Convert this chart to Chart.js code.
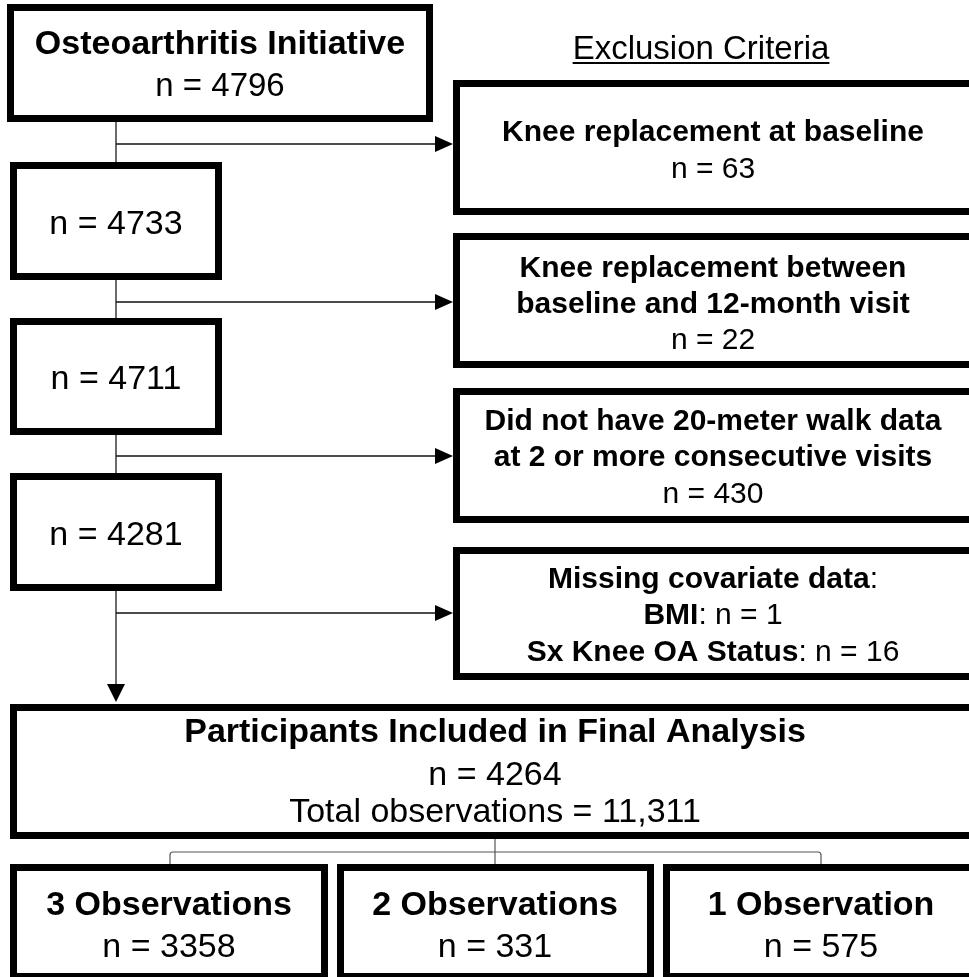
<!DOCTYPE html>
<html>
<head>
<meta charset="utf-8">
<script src="https://cdn.jsdelivr.net/npm/chart.js@4.4.1/dist/chart.umd.min.js"></script>
<style>
  html, body { margin: 0; padding: 0; background: #ffffff; }
  #wrap { width: 969px; height: 977px; position: relative; }
</style>
</head>
<body>
<div id="wrap"><canvas id="c"></canvas></div>
<script>
// ---------------- DATA ----------------
const sourceTitle = "Osteoarthritis Initiative";
const stepCounts = [4796, 4733, 4711, 4281];
const exclusionHeader = "Exclusion Criteria";
const exclusionLabels = [
  ["Knee replacement at baseline"],
  ["Knee replacement between", "baseline and 12-month visit"],
  ["Did not have 20-meter walk data", "at 2 or more consecutive visits"],
  ["Missing covariate data"]
];
const exclusionCounts = [63, 22, 430, null];
const covariateLabels = ["BMI", "Sx Knee OA Status"];
const covariateCounts = [1, 16];
const finalTitle = "Participants Included in Final Analysis";
const finalCount = 4264;
const totalObservations = "11,311";
const groupLabels = ["3 Observations", "2 Observations", "1 Observation"];
const groupCounts = [3358, 331, 575];

// ---------------- LAYOUT (positions / sizes, in scale units) ----------------
const LAYOUT = {
  border: 7,
  stepBoxes: [[7, 4, 433, 122], [10, 162, 222, 280], [10, 318, 222, 435], [10, 473, 222, 591]],
  stepText: [[220, [42, 84]], [116, [222]], [116, [377]], [116, [533]]],
  exclBoxes: [[453, 80, 976, 215], [453, 233, 976, 368], [453, 388, 976, 523], [453, 547, 976, 680]],
  exclTextX: 713,
  exclTextY: [[130, 167], [266, 302, 338], [419, 455, 492], [577, 613, 650]],
  headerPos: [701, 47, 63],
  spineX: 116,
  spineTop: 122, spineBottom: 702,
  arrowY: [144, 302, 456, 613],
  arrowEndX: 453,
  finalBox: [10, 704, 980, 839],
  finalTextX: 495, finalTextY: [730, 773, 810],
  groupBoxes: [[10, 864, 328, 980], [337, 864, 654, 980], [663, 864, 979, 980]],
  groupTextX: [169, 495, 821], groupTextY: [903, 945],
  bracket: { stemX: 495, top: 839, y: 852, left: 170, right: 821, bottom: 864 }
};
const FONT = '"Liberation Sans", Arial, Helvetica, sans-serif';

function font(w, s) { return (w ? 'bold ' : '') + s + 'px ' + FONT; }

function drawRich(ctx, segs, cx, cy, size) {
  let total = 0;
  segs.forEach(s => { ctx.font = font(s[1], size); s.w = ctx.measureText(s[0]).width; total += s.w; });
  let x = cx - total / 2;
  const base = cy + size * 0.36;
  ctx.textAlign = 'left';
  ctx.textBaseline = 'alphabetic';
  segs.forEach(s => { ctx.font = font(s[1], size); ctx.fillText(s[0], x, base); x += s.w; });
}

const flowPlugin = {
  id: 'flow',
  afterDraw(chart) {
    const ctx = chart.ctx;
    const X = v => chart.scales.x.getPixelForValue(v);
    const Y = v => chart.scales.y.getPixelForValue(v);
    const L = LAYOUT;
    ctx.save();
    ctx.fillStyle = '#000';

    const box = (b) => {
      const h = L.border / 2;
      const x0 = X(b[0]), y0 = Y(b[1]), w = X(b[2]) - X(b[0]), hh = Y(b[3]) - Y(b[1]);
      ctx.fillStyle = '#fff';
      ctx.fillRect(x0, y0, w, hh);
      ctx.lineWidth = L.border;
      ctx.strokeStyle = '#000';
      ctx.strokeRect(x0 + h, y0 + h, w - L.border, hh - L.border);
      ctx.fillStyle = '#000';
    };

    // connectors
    ctx.strokeStyle = '#3a3a3a';
    ctx.lineWidth = 1.5;
    ctx.beginPath();
    ctx.moveTo(X(L.spineX), Y(L.spineTop));
    ctx.lineTo(X(L.spineX), Y(L.spineBottom) - 14);
    ctx.stroke();
    ctx.beginPath();
    ctx.moveTo(X(L.spineX) - 9, Y(L.spineBottom) - 18);
    ctx.lineTo(X(L.spineX) + 9, Y(L.spineBottom) - 18);
    ctx.lineTo(X(L.spineX), Y(L.spineBottom));
    ctx.closePath(); ctx.fill();

    ctx.strokeStyle = '#111';
    ctx.lineWidth = 1.3;
    L.arrowY.forEach(y => {
      ctx.beginPath();
      ctx.moveTo(X(L.spineX), Y(y));
      ctx.lineTo(X(L.arrowEndX) - 14, Y(y));
      ctx.stroke();
      ctx.beginPath();
      ctx.moveTo(X(L.arrowEndX) - 18, Y(y) - 8);
      ctx.lineTo(X(L.arrowEndX), Y(y));
      ctx.lineTo(X(L.arrowEndX) - 18, Y(y) + 8);
      ctx.closePath(); ctx.fill();
    });

    // bracket
    const br = L.bracket;
    ctx.strokeStyle = '#555';
    ctx.lineWidth = 1.2;
    ctx.beginPath();
    ctx.moveTo(X(br.stemX), Y(br.top)); ctx.lineTo(X(br.stemX), Y(br.bottom)); ctx.stroke();
    ctx.beginPath();
    ctx.moveTo(X(br.left), Y(br.bottom));
    ctx.arcTo(X(br.left), Y(br.y), X(br.left) + 6, Y(br.y), 3);
    ctx.arcTo(X(br.right), Y(br.y), X(br.right), Y(br.bottom), 3);
    ctx.lineTo(X(br.right), Y(br.bottom));
    ctx.stroke();

    // step boxes
    L.stepBoxes.forEach(box);
    drawRich(ctx, [[sourceTitle, true]], X(L.stepText[0][0]), Y(L.stepText[0][1][0]), 34);
    drawRich(ctx, [['n = ' + stepCounts[0], false]], X(L.stepText[0][0]), Y(L.stepText[0][1][1]), 33);
    for (let i = 1; i < stepCounts.length; i++) {
      drawRich(ctx, [['n = ' + stepCounts[i], false]], X(L.stepText[i][0]), Y(L.stepText[i][1][0]), 34);
    }

    // header
    const hp = L.headerPos;
    ctx.font = font(false, 33);
    const hw = ctx.measureText(exclusionHeader).width;
    drawRich(ctx, [[exclusionHeader, false]], X(hp[0]), Y(hp[1]), 33);
    ctx.fillRect(X(hp[0]) - hw / 2, Y(hp[2]) - 1, hw, 2);

    // exclusion boxes
    L.exclBoxes.forEach(box);
    exclusionLabels.forEach((lines, i) => {
      const ys = L.exclTextY[i];
      lines.forEach((t, j) => {
        const segs = (exclusionCounts[i] === null) ? [[t, true], [':', false]] : [[t, true]];
        drawRich(ctx, segs, X(L.exclTextX), Y(ys[j]), 30);
      });
      if (exclusionCounts[i] !== null) {
        drawRich(ctx, [['n = ' + exclusionCounts[i], false]], X(L.exclTextX), Y(ys[lines.length]), 30);
      } else {
        covariateLabels.forEach((c, k) => {
          drawRich(ctx, [[c, true], [': n = ' + covariateCounts[k], false]], X(L.exclTextX), Y(ys[lines.length + k]), 30);
        });
      }
    });

    // final box
    box(L.finalBox);
    drawRich(ctx, [[finalTitle, true]], X(L.finalTextX), Y(L.finalTextY[0]), 34);
    drawRich(ctx, [['n = ' + finalCount, false]], X(L.finalTextX), Y(L.finalTextY[1]), 34);
    drawRich(ctx, [['Total observations = ' + totalObservations, false]], X(L.finalTextX), Y(L.finalTextY[2]), 34);

    // group boxes
    L.groupBoxes.forEach(box);
    groupLabels.forEach((g, i) => {
      drawRich(ctx, [[g, true]], X(L.groupTextX[i]), Y(L.groupTextY[0]), 34);
      drawRich(ctx, [['n = ' + groupCounts[i], false]], X(L.groupTextX[i]), Y(L.groupTextY[1]), 34);
    });

    ctx.restore();
  }
};

new Chart(document.getElementById('c'), {
  type: 'scatter',
  data: { datasets: [{ data: [], pointRadius: 0 }] },
  options: {
    responsive: true,
    maintainAspectRatio: false,
    animation: false,
    layout: { padding: 0 },
    scales: {
      x: { type: 'linear', min: 0, max: 969, display: false },
      y: { type: 'linear', min: 0, max: 977, reverse: true, display: false }
    },
    plugins: { legend: { display: false }, tooltip: { enabled: false } }
  },
  plugins: [flowPlugin]
});
</script>
</body>
</html>
